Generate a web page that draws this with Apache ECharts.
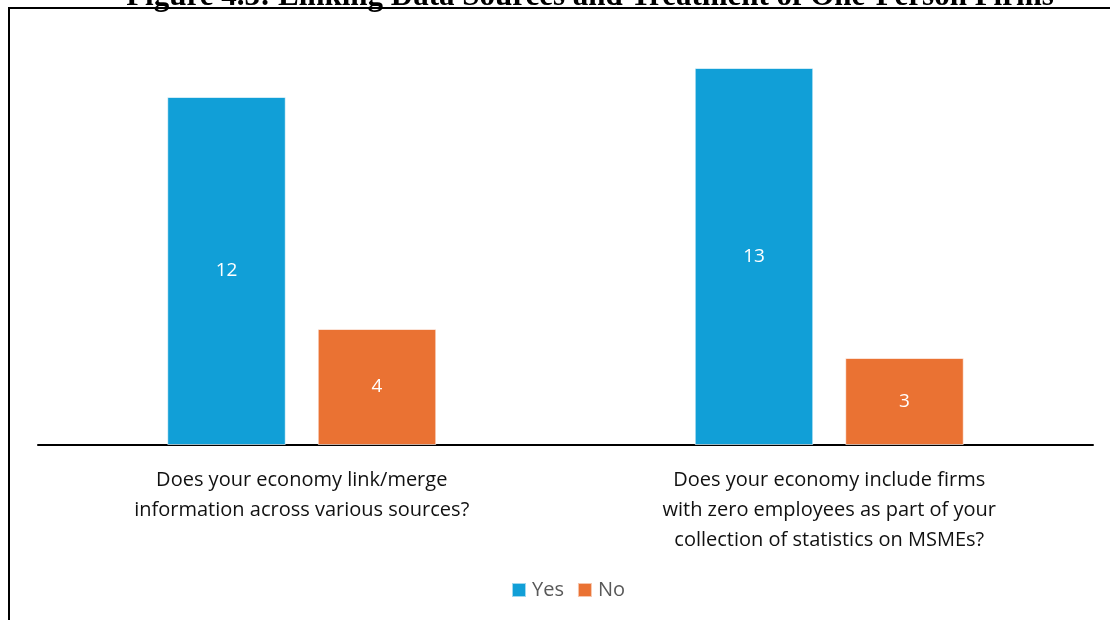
<!DOCTYPE html>
<html>
<head>
<meta charset="utf-8">
<script src="https://cdn.jsdelivr.net/npm/echarts@6/dist/echarts.min.js"></script>
<style>
html,body{margin:0;padding:0;background:#fff;}
#chart{width:1110px;height:620px;}
</style>
</head>
<body>
<div id="chart"></div>
<script>
const titleText = 'Figure 4.3: Linking Data Sources and Treatment of One-Person Firms';
const categories = [
  'Does your economy link/merge\ninformation across various sources?',
  'Does your economy include firms\nwith zero employees as part of your\ncollection of statistics on MSMEs?'
];
const seriesNames = ['Yes', 'No'];
const yesValues = [12, 13];
const noValues = [4, 3];
const colors = ['#119FD7', '#EA7233'];

const chart = echarts.init(document.getElementById('chart'), null, {renderer: 'canvas'});
const labelFont = {show: true, position: 'inside', color: '#ffffff', fontSize: 19, fontFamily: '"Open Sans", sans-serif'};
chart.setOption({
  animation: false,
  color: colors,
  grid: {left: 38, right: 17, top: 39, bottom: 175, containLabel: false},
  legend: {
    bottom: 15, left: 506,
    itemWidth: 14, itemHeight: 14, itemGap: 13,
    icon: 'rect',
    textStyle: {color: '#595959', fontSize: 20, fontFamily: '"Open Sans", sans-serif', padding: [0,0,0,1]},
    data: seriesNames
  },
  xAxis: {
    type: 'category',
    data: categories,
    axisLine: {lineStyle: {color: '#000', width: 2}},
    axisTick: {show: false},
    axisLabel: {color: '#111', fontSize: 20, lineHeight: 30, margin: 20, interval: 0, fontFamily: '"Open Sans", sans-serif'}
  },
  yAxis: {
    type: 'value', min: 0, max: 14, interval: 2,
    show: false, splitLine: {show: false}
  },
  series: [
    {name: seriesNames[0], type: 'bar', data: yesValues, barGap: '27%', barCategoryGap: '49%',
     itemStyle: {borderColor: 'rgba(255,255,255,0.6)', borderWidth: 1}, label: labelFont},
    {name: seriesNames[1], type: 'bar', data: noValues,
     itemStyle: {borderColor: 'rgba(255,255,255,0.6)', borderWidth: 1}, label: labelFont}
  ],
  graphic: [
    {type: 'rect', shape: {x: 9, y: 8, width: 1130, height: 640}, style: {fill: 'none', stroke: '#000', lineWidth: 2}, silent: true},
    {type: 'text', x: 590, y: 12, z: 10, style: {text: titleText, font: 'bold 31px "Liberation Serif", serif', fill: '#000', textAlign: 'center', textVerticalAlign: 'bottom'}, silent: true}
  ]
});
</script>
</body>
</html>
